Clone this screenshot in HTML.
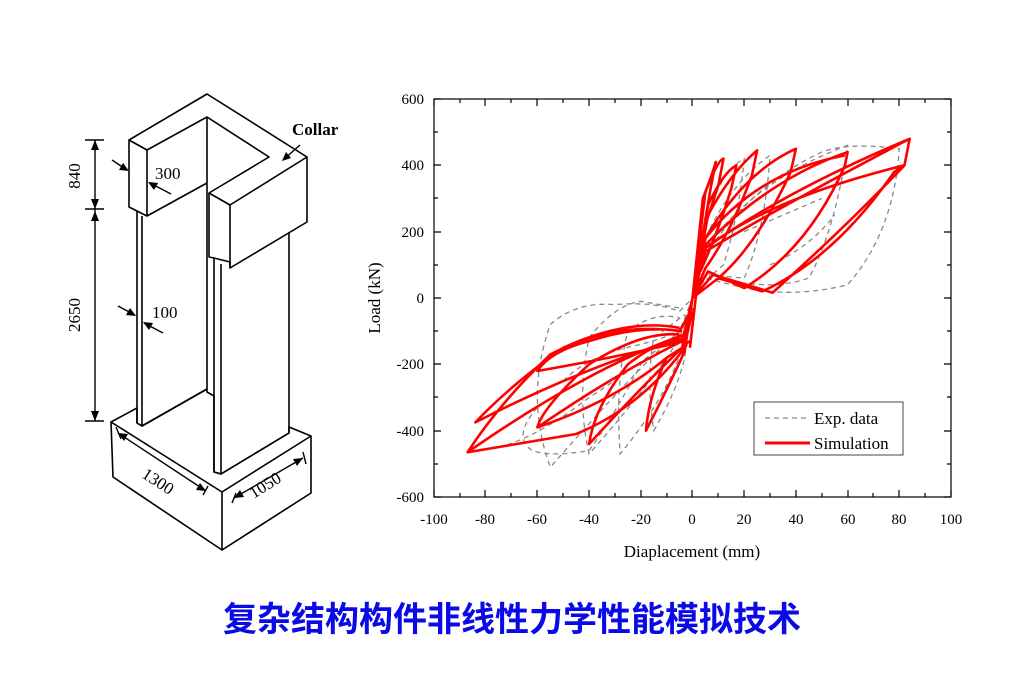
<!DOCTYPE html>
<html><head><meta charset="utf-8"><style>
html,body{margin:0;padding:0;background:#fff;}
svg{display:block;font-family:"Liberation Serif",serif;}
</style></head><body>
<svg width="1024" height="685" viewBox="0 0 1024 685" xmlns="http://www.w3.org/2000/svg">
<rect width="1024" height="685" fill="#fff"/>
<g fill="none" stroke="#000" stroke-width="1.6" stroke-linejoin="round">
<polygon points="129,140 207,94 307,157 307,222 230,268 230,262 214,258 209,257 209,193 269,157 207,117 147,150 147,216 137,211 129,207"/>
<line x1="129" y1="140" x2="147" y2="150"/>
<line x1="209" y1="193" x2="230" y2="205"/>
<line x1="230" y1="205" x2="307" y2="157"/>
<line x1="230" y1="205" x2="230" y2="268"/>
<line x1="207" y1="117" x2="207" y2="389"/>
<line x1="147" y1="216" x2="207" y2="183"/>
<polyline points="137,211 137,423 142,426 142,216"/>
<line x1="142" y1="426" x2="207" y2="389"/>
<polyline points="214,258 214,472 221,474 221,264"/>
<line x1="221" y1="474" x2="289" y2="433"/>
<line x1="289" y1="232" x2="289" y2="433"/>
<polygon points="111,422 137,408 137,423 142,426 207,389 207,392 214,396 214,472 221,474 289,433 289,427 311,436 222,492"/>
<polyline points="111,422 113,477 222,550 311,493 311,436"/>
<line x1="222" y1="492" x2="222" y2="550"/>
</g>
<g stroke="#000" stroke-width="1.4" fill="none">
<line x1="95" y1="140" x2="95" y2="421"/>
<line x1="85" y1="140" x2="104" y2="140"/>
<line x1="85" y1="209" x2="104" y2="209"/>
<line x1="85" y1="421" x2="104" y2="421"/>
<line x1="118" y1="433" x2="206" y2="491"/>
<line x1="234" y1="498" x2="303" y2="458"/>
<line x1="112" y1="160" x2="127" y2="170"/>
<line x1="171" y1="194" x2="150" y2="183"/>
<line x1="118" y1="306" x2="135" y2="315"/>
<line x1="163" y1="333" x2="144" y2="323"/>
<line x1="300" y1="145" x2="283" y2="160"/>
<line x1="116" y1="427" x2="121" y2="439"/>
<line x1="203" y1="495" x2="208" y2="486"/>
<line x1="232" y1="503" x2="236" y2="493"/>
<line x1="303" y1="452" x2="306" y2="464"/>
</g>
<g fill="#000">
<polygon points="95,140 91,150 99,150"/><polygon points="95,209 91,199 99,199"/>
<polygon points="95,211 91,221 99,221"/><polygon points="95,421 91,411 99,411"/>
<polygon points="129,171 119,170 123,163"/><polygon points="148,182 158,183 154,190"/>
<polygon points="136,316 126,315 130,308"/><polygon points="143,322 153,323 149,330"/>
<polygon points="282,161 286,152 291,158"/>
<polygon points="118,433 128,434 124,441"/><polygon points="206,491 196,490 200,483"/>
<polygon points="234,498 240,490 244,497"/><polygon points="303,458 297,466 293,459"/>
</g>
<g font-size="17" fill="#000">
<text x="292" y="135" font-weight="bold">Collar</text>
<text x="155" y="179">300</text>
<text x="152" y="318">100</text>
<text transform="translate(80,176) rotate(-90)" text-anchor="middle">840</text>
<text transform="translate(80,315) rotate(-90)" text-anchor="middle">2650</text>
<text transform="translate(155,486) rotate(33)" text-anchor="middle">1300</text>
<text transform="translate(268,490) rotate(-32)" text-anchor="middle">1050</text>
</g>
<defs><clipPath id="c"><rect x="434" y="99" width="517" height="398"/></clipPath></defs>
<g clip-path="url(#c)">
<g transform="translate(692.5,298) scale(2.585,-0.3317)" fill="none">
<path vector-effect="non-scaling-stroke" stroke="#888" stroke-width="1.3" stroke-dasharray="5,4" d="
M0 0 L3 100 Q20 330 50 440 Q60 470 80 450 Q78 200 60 40 Q40 0 20 30 L5 60 L0 0
M0 0 L5 150 Q25 360 60 460 Q55 200 45 60 Q30 20 10 60
M0 0 L5 180 Q15 350 30 430 Q28 200 20 60 L5 70
M0 0 L4 200 Q10 380 20 420 Q18 250 12 100 L3 40
M0 0 L-5 -100 Q-20 -200 -55 -510 Q-65 -300 -55 -80 Q-45 -10 -30 -20 Q-15 -10 -5 -40 L0 0
M0 0 L-5 -120 Q-15 -250 -40 -470 Q-45 -300 -40 -120 Q-30 -20 -20 -10 L-5 -30
M0 0 L-4 -150 Q-10 -300 -28 -470 Q-30 -250 -25 -100 Q-15 -40 -5 -60
M0 0 L-3 -180 Q-6 -280 -15 -400 Q-18 -250 -15 -120 L-3 -50
M-60 -330 Q-70 -420 -62 -460 Q-55 -480 -40 -460 Q-30 -350 -20 -200
M-75 -450 Q-60 -420 -40 -300 Q-20 -200 -5 -100
M-50 -250 Q-40 -170 -20 -140 Q-10 -120 -3 -90
M20 200 Q35 250 50 300 M30 100 Q45 150 55 250"/>
<path vector-effect="non-scaling-stroke" stroke="#f00" stroke-width="2.6" stroke-linejoin="round" d="
M0 0 L5 150 Q35 320 84 480 L82 400 Q60 220 31 16 L8 70 L0 0
M0 0 L5 140 Q35 280 84 480
M0 0 L5 150 Q30 300 82 400 L78 380 Q55 120 27 20 L10 60 L0 0
M0 0 L5 160 Q30 360 60 440 L59 400 Q45 150 20 30 L6 80 L0 0
M0 0 L5 180 Q25 380 59 430
M0 0 L5 180 Q20 380 40 450 L38 380 Q25 160 10 60 L0 0
M0 0 L6 250 Q15 380 25 445 L23 370 Q15 200 5 90 L0 0
M0 0 L6 280 Q12 380 17 400 L15 330 Q10 200 3 80
M0 0 L4 300 Q8 380 9 410 L7 330 L2 100
M0 0 L5 320 Q10 420 12 420 L10 340 L2 150
M-1 -150 L2 50 L4 150
M0 0 L-3 -110 Q-40 -210 -87 -465 Q-75 -320 -55 -170 Q-30 -70 -5 -100 L0 -30
M0 0 L-3 -120 Q-40 -200 -84 -375 Q-70 -260 -50 -150 Q-25 -60 -5 -90
M0 0 L-4 -130 Q-30 -230 -60 -390 Q-58 -330 -40 -200 Q-20 -100 -5 -110
M0 0 L-3 -130 Q-30 -180 -60 -220 Q-55 -160 -40 -130 Q-20 -80 -4 -100
M0 0 L-4 -150 Q-20 -270 -40 -440 Q-38 -330 -25 -200 Q-12 -120 -3 -130
M0 0 L-3 -160 Q-10 -280 -18 -400 Q-17 -300 -10 -180 L-2 -140
M-87 -465 L-45 -410 Q-20 -330 -3 -150
M-60 -390 Q-30 -310 -10 -180
M-1 -130 L-3 -140 L0 -40"/>
</g>
</g>
<rect x="434" y="99" width="517" height="398" fill="none" stroke="#000" stroke-width="1.2"/>
<g stroke="#000" stroke-width="1.2">
<path d="M434 497v-7M460 497v-4M485 497v-7M511 497v-4M537 497v-7M563 497v-4M589 497v-7M615 497v-4M641 497v-7M667 497v-4M692 497v-7M718 497v-4M744 497v-7M770 497v-4M796 497v-7M822 497v-4M848 497v-7M873 497v-4M899 497v-7M925 497v-4M951 497v-7"/>
<path d="M434 99v7M460 99v4M485 99v7M511 99v4M537 99v7M563 99v4M589 99v7M615 99v4M641 99v7M667 99v4M692 99v7M718 99v4M744 99v7M770 99v4M796 99v7M822 99v4M848 99v7M873 99v4M899 99v7M925 99v4M951 99v7"/>
<path d="M434 99h7M434 132h4M434 165h7M434 198h4M434 232h7M434 265h4M434 298h7M434 331h4M434 364h7M434 397h4M434 431h7M434 464h4M434 497h7"/>
<path d="M951 99h-7M951 132h-4M951 165h-7M951 198h-4M951 232h-7M951 265h-4M951 298h-7M951 331h-4M951 364h-7M951 397h-4M951 431h-7M951 464h-4M951 497h-7"/>
</g>
<g font-size="15" fill="#000" text-anchor="middle">
<text x="434" y="524">-100</text><text x="485" y="524">-80</text><text x="537" y="524">-60</text><text x="589" y="524">-40</text><text x="641" y="524">-20</text><text x="692" y="524">0</text><text x="744" y="524">20</text><text x="796" y="524">40</text><text x="848" y="524">60</text><text x="899" y="524">80</text><text x="951" y="524">100</text>
</g>
<g font-size="15" fill="#000" text-anchor="end">
<text x="424" y="104">600</text><text x="424" y="170">400</text><text x="424" y="237">200</text><text x="424" y="303">0</text><text x="424" y="369">-200</text><text x="424" y="436">-400</text><text x="424" y="502">-600</text>
</g>
<text x="692" y="557" font-size="17" text-anchor="middle">Diaplacement (mm)</text>
<text transform="translate(380,298) rotate(-90)" font-size="17" text-anchor="middle">Load (kN)</text>
<rect x="754" y="402" width="149" height="53" fill="#fff" stroke="#444" stroke-width="1"/>
<line x1="765" y1="418" x2="810" y2="418" stroke="#888" stroke-width="1.3" stroke-dasharray="5,4"/>
<line x1="765" y1="443" x2="810" y2="443" stroke="#f00" stroke-width="3"/>
<text x="814" y="424" font-size="17">Exp. data</text>
<text x="814" y="449" font-size="17">Simulation</text>
<text x="512" y="631" font-size="34" font-weight="bold" fill="#0a0ae6" text-anchor="middle" font-family="'Liberation Sans','Noto Sans CJK SC',sans-serif">复杂结构构件非线性力学性能模拟技术</text>
</svg>
</body></html>
